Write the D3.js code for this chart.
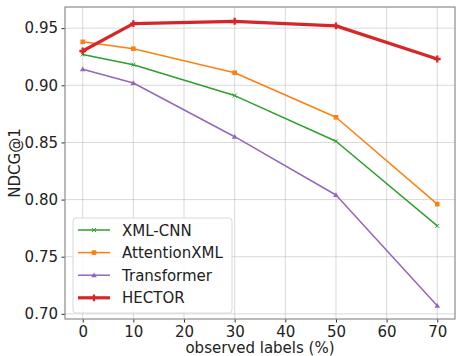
<!DOCTYPE html>
<html>
<head>
<meta charset="utf-8">
<script src="https://cdn.jsdelivr.net/npm/d3@7"></script>
<style>
  body { margin: 0; background: #fff; }
  text { font-family: "DejaVu Sans", sans-serif; }
</style>
</head>
<body>
<div id="chart"></div>
<script>
// Datos
const labels = [0, 10, 30, 50, 70];
const xmlCnn = [0.927, 0.918, 0.891, 0.851, 0.777];
const attentionXml = [0.938, 0.932, 0.911, 0.872, 0.796];
const transformer = [0.914, 0.902, 0.855, 0.804, 0.707];
const hector = [0.930, 0.954, 0.956, 0.952, 0.923];
const xTicks = [0, 10, 20, 30, 40, 50, 60, 70];
const yTicks = [0.70, 0.75, 0.80, 0.85, 0.90, 0.95];

const series = [
  { name: "XML-CNN", values: xmlCnn, color: "#2ca02c", marker: "x", width: 1.5 },
  { name: "AttentionXML", values: attentionXml, color: "#ff7f0e", marker: "square", width: 1.5 },
  { name: "Transformer", values: transformer, color: "#9467bd", marker: "triangle", width: 1.5 },
  { name: "HECTOR", values: hector, color: "#d62728", marker: "plus", width: 3.2 }
];

const width = 456, height = 356;
const margin = { top: 7, right: 1, bottom: 37, left: 65 };
const fontSize = "15px";

const svg = d3.select("#chart").append("svg")
  .attr("width", width)
  .attr("height", height);

const x = d3.scaleLinear().domain([-3.5, 73.5]).range([margin.left, width - margin.right]);
const y = d3.scaleLinear().domain([0.6955, 0.9685]).range([height - margin.bottom, margin.top]);

// Rejilla
svg.append("g").selectAll("line").data(xTicks).enter().append("line")
  .attr("x1", d => x(d)).attr("x2", d => x(d))
  .attr("y1", margin.top).attr("y2", height - margin.bottom)
  .attr("stroke", "#b0b0b0").attr("stroke-opacity", 0.6).attr("stroke-width", 0.8);
svg.append("g").selectAll("line").data(yTicks).enter().append("line")
  .attr("x1", margin.left).attr("x2", width - margin.right)
  .attr("y1", d => y(d)).attr("y2", d => y(d))
  .attr("stroke", "#b0b0b0").attr("stroke-opacity", 0.6).attr("stroke-width", 0.8);

// Ejes
const xAxis = svg.append("g")
  .attr("transform", `translate(0,${height - margin.bottom})`)
  .call(d3.axisBottom(x).tickValues(xTicks).tickSize(3.5).tickPadding(3.5));
const yAxis = svg.append("g")
  .attr("transform", `translate(${margin.left},0)`)
  .call(d3.axisLeft(y).tickValues(yTicks).tickFormat(d3.format(".2f")).tickSize(3.5).tickPadding(3.5));
[xAxis, yAxis].forEach(a => {
  a.select(".domain").remove();
  a.selectAll("line").attr("stroke", "#333");
  a.selectAll("text").attr("font-size", fontSize).attr("fill", "#222")
    .style("font-family", "DejaVu Sans, sans-serif");
});

// Marco
svg.append("rect")
  .attr("x", margin.left).attr("y", margin.top)
  .attr("width", width - margin.left - margin.right)
  .attr("height", height - margin.top - margin.bottom)
  .attr("fill", "none").attr("stroke", "#8c8c8c").attr("stroke-width", 1.2);

// Etiquetas de los ejes
svg.append("text")
  .attr("x", (margin.left + width - margin.right) / 2)
  .attr("y", 353)
  .attr("text-anchor", "middle")
  .attr("font-size", fontSize).attr("fill", "#222")
  .text("observed labels (%)");
svg.append("text")
  .attr("transform", `translate(20,${(margin.top + height - margin.bottom) / 2}) rotate(-90)`)
  .attr("text-anchor", "middle")
  .attr("font-size", fontSize).attr("fill", "#222")
  .text("NDCG@1");

// Dibuja un marcador
function drawMarker(g, s, cx, cy) {
  if (s.marker === "x") {
    g.append("path").attr("d", `M${cx - 2},${cy - 2}L${cx + 2},${cy + 2}M${cx - 2},${cy + 2}L${cx + 2},${cy - 2}`)
      .attr("stroke", s.color).attr("stroke-width", 1);
  } else if (s.marker === "square") {
    g.append("rect").attr("x", cx - 2.3).attr("y", cy - 2.3).attr("width", 4.6).attr("height", 4.6).attr("fill", s.color);
  } else if (s.marker === "triangle") {
    g.append("path").attr("d", `M${cx},${cy - 2.8}L${cx + 2.8},${cy + 2}L${cx - 2.8},${cy + 2}Z`).attr("fill", s.color);
  } else {
    g.append("path").attr("d", d3.symbol(d3.symbolCross, 26)()).attr("transform", `translate(${cx},${cy})`).attr("fill", s.color);
  }
}

const line = d3.line().x((d, i) => x(labels[i])).y(d => y(d));

series.forEach(s => {
  const g = svg.append("g");
  g.append("path").datum(s.values)
    .attr("d", line)
    .attr("fill", "none")
    .attr("stroke", s.color)
    .attr("stroke-width", s.width)
    .attr("stroke-linejoin", "round");
  s.values.forEach((v, i) => drawMarker(g, s, x(labels[i]), y(v)));
});

// Leyenda
const legend = svg.append("g");
legend.append("rect")
  .attr("x", 73).attr("y", 218).attr("width", 159).attr("height", 95)
  .attr("rx", 3).attr("fill", "#fff").attr("fill-opacity", 0.85)
  .attr("stroke", "#d8d8d8").attr("stroke-width", 1);
series.forEach((s, i) => {
  const ly = 230 + i * 22.6;
  legend.append("line")
    .attr("x1", 78).attr("x2", 110).attr("y1", ly).attr("y2", ly)
    .attr("stroke", s.color).attr("stroke-width", s.width);
  drawMarker(legend, s, 94, ly);
  legend.append("text")
    .attr("x", 122).attr("y", ly + 5.5)
    .attr("font-size", fontSize).attr("fill", "#222")
    .text(s.name);
});
</script>
</body>
</html>
